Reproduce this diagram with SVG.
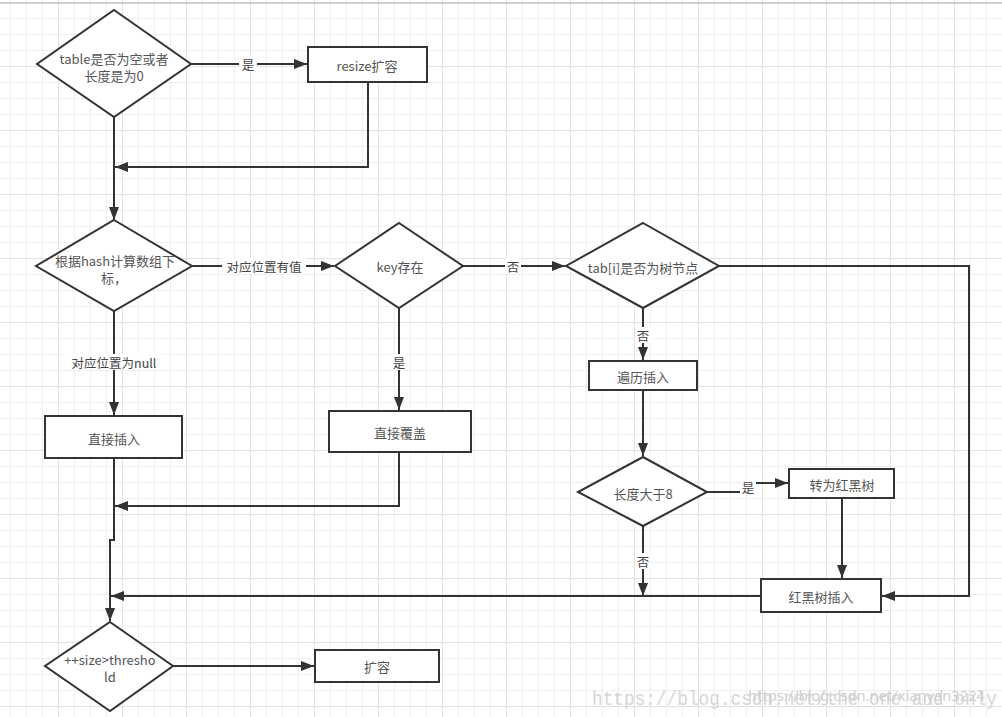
<svg xmlns="http://www.w3.org/2000/svg" width="1002" height="717" viewBox="0 0 1002 717">
<defs>
<pattern id="minor" x="10" y="2" width="16" height="16" patternUnits="userSpaceOnUse">
<path d="M0.5,0 V16 M0,0.5 H16" stroke="#efefef" stroke-width="1" fill="none"/>
</pattern>
<pattern id="major" x="58" y="2" width="64" height="64" patternUnits="userSpaceOnUse">
<path d="M0.5,0 V64 M0,0.5 H64" stroke="#e2e2e2" stroke-width="1" fill="none"/>
</pattern>
<marker id="arr" markerUnits="userSpaceOnUse" viewBox="0 0 13 10" markerWidth="13" markerHeight="10" refX="13" refY="5" orient="auto">
<path d="M0,0 L13,5 L0,10 z" fill="#333"/>
</marker>
</defs>
<style>
.shape{fill:#fff;stroke:#333;stroke-width:2}
.t{font-family:"Noto Sans CJK SC","Noto Sans",sans-serif;font-size:13px;fill:#555;text-anchor:middle;dominant-baseline:central}
.lbl{font-family:"Noto Sans CJK SC","Noto Sans",sans-serif;font-size:12.5px;fill:#444;text-anchor:middle;dominant-baseline:central}
.edge{fill:none;stroke:#333;stroke-width:2;marker-end:url(#arr)}
.line{fill:none;stroke:#333;stroke-width:2}
.lb{fill:#fff}
</style>
<rect width="1002" height="717" fill="#fff"/>
<rect width="1002" height="717" fill="url(#minor)"/>
<rect width="1002" height="717" fill="url(#major)"/>
<line x1="0" y1="3" x2="1002" y2="3" stroke="#c4c4c4" stroke-width="1.5"/>

<g id="connectors">
<path class="edge" d="M191,64 H307"/>
<path class="edge" d="M368,82 V167 H115"/>
<path class="edge" d="M114,117 V220"/>
<path class="edge" d="M192,266 H334"/>
<path class="edge" d="M399,308 V410"/>
<path class="edge" d="M114,311 V415"/>
<path class="edge" d="M463,266 H565"/>
<path class="edge" d="M719,266 H969 V596 H882"/>
<path class="edge" d="M643,308 V360"/>
<path class="edge" d="M643,390 V456"/>
<path class="edge" d="M707,492 H748 V483 H788"/>
<path class="edge" d="M842,498 V578"/>
<path class="edge" d="M643,526 V596"/>
<path class="edge" d="M761,596 H111"/>
<path class="edge" d="M114,458 V540 H110 V621"/>
<path class="edge" d="M399,452 V506 H115"/>
<path class="edge" d="M173,666 H314"/>
<rect class="lb" x="239" y="56" width="18" height="16"/>
<text class="lbl" x="248" y="64">是</text>
<rect class="lb" x="222" y="258" width="84" height="16"/>
<text class="lbl" x="264" y="266">对应位置有值</text>
<rect class="lb" x="391" y="354" width="16" height="16"/>
<text class="lbl" x="399" y="362">是</text>
<rect class="lb" x="66" y="354" width="96" height="16"/>
<text class="lbl" x="114" y="362">对应位置为null</text>
<rect class="lb" x="505" y="258" width="16" height="16"/>
<text class="lbl" x="513" y="266">否</text>
<rect class="lb" x="635" y="327" width="16" height="16"/>
<text class="lbl" x="643" y="335">否</text>
<rect class="lb" x="740" y="479" width="16" height="16"/>
<text class="lbl" x="748" y="487">是</text>
<rect class="lb" x="635" y="553" width="16" height="16"/>
<text class="lbl" x="643" y="561">否</text>
</g>

<g id="n-table-empty">
<polygon class="shape" points="114,10 191,64 114,117 37,64"/>
<text class="t" x="114" y="58">table是否为空或者</text>
<text class="t" x="114" y="75">长度是为0</text>
</g>
<g id="n-resize">
<rect class="shape" x="308" y="47" width="119" height="35"/>
<text class="t" x="367" y="65">resize扩容</text>
</g>
<g id="n-hash">
<polygon class="shape" points="114,220 192,266 114,311 36,266"/>
<text class="t" x="115" y="260">根据hash计算数组下</text>
<text class="t" x="114" y="277">标，</text>
</g>
<g id="n-key">
<polygon class="shape" points="399,223 463,266 399,308 335,266"/>
<text class="t" x="400" y="266">key存在</text>
</g>
<g id="n-tree-node">
<polygon class="shape" points="643,223 719,266 643,308 566,266"/>
<text class="t" x="643" y="267">tab[i]是否为树节点</text>
</g>
<g id="n-insert">
<rect class="shape" x="45" y="416" width="137" height="42"/>
<text class="t" x="114" y="438">直接插入</text>
</g>
<g id="n-overwrite">
<rect class="shape" x="329" y="411" width="142" height="41"/>
<text class="t" x="400" y="432">直接覆盖</text>
</g>
<g id="n-traverse">
<rect class="shape" x="589" y="361" width="108" height="29"/>
<text class="t" x="643" y="376">遍历插入</text>
</g>
<g id="n-len8">
<polygon class="shape" points="643,457 707,492 643,526 578,492"/>
<text class="t" x="643" y="493">长度大于8</text>
</g>
<g id="n-to-rbtree">
<rect class="shape" x="789" y="469" width="105" height="29"/>
<text class="t" x="842" y="484">转为红黑树</text>
</g>
<g id="n-rbtree-insert">
<rect class="shape" x="761" y="579" width="120" height="33"/>
<text class="t" x="821" y="596">红黑树插入</text>
</g>
<g id="n-threshold">
<polygon class="shape" points="110,622 173,666 110,711 45,666"/>
<text class="t" x="110" y="659">++size&gt;thresho</text>
<text class="t" x="110" y="676">ld</text>
</g>
<g id="n-expand">
<rect class="shape" x="315" y="650" width="124" height="32"/>
<text class="t" x="377" y="666">扩容</text>
</g>

<g id="watermark">
<text x="592" y="705" font-family="Liberation Mono, monospace" font-size="20" fill="#d6d6d6" textLength="405" lengthAdjust="spacingAndGlyphs">https://blog.csdn.net/the_one_and_only</text>
<text x="748" y="701" font-family="Noto Sans, sans-serif" font-size="15" fill="#cfcfcf" textLength="237" lengthAdjust="spacingAndGlyphs">https://blog.csdn.net/xianyan3224</text>
</g>
</svg>
